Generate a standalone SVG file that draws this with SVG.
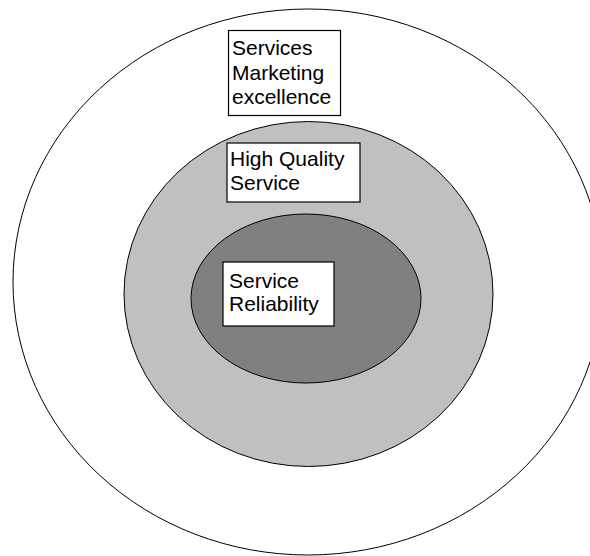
<svg xmlns="http://www.w3.org/2000/svg" width="590" height="556" viewBox="0 0 590 556">
  <style>
    .ring { stroke: #000; stroke-width: 1; }
    .box { fill: #fff; stroke: #000; stroke-width: 1.2; }
    .label { font-family: "Liberation Sans", Arial, sans-serif; font-size: 21px; fill: #000; }
  </style>
  <rect width="590" height="556" fill="#fff"/>

  <!-- concentric levels -->
  <g id="outer-level">
    <ellipse class="ring" cx="308" cy="282" rx="295" ry="273" fill="#fff"/>
  </g>
  <g id="middle-level">
    <ellipse class="ring" cx="308.5" cy="294" rx="184.5" ry="172.5" fill="#c0c0c0"/>
  </g>
  <g id="inner-level">
    <ellipse class="ring" cx="306" cy="298.5" rx="115" ry="84.5" fill="#808080"/>
  </g>

  <!-- labels -->
  <g id="services-marketing-excellence">
    <rect class="box" x="228.5" y="30.5" width="112" height="85"/>
    <text class="label" x="232" y="55">Services</text>
    <text class="label" x="232" y="79.5">Marketing</text>
    <text class="label" x="232" y="104">excellence</text>
  </g>
  <g id="high-quality-service">
    <rect class="box" x="227" y="143" width="133" height="59"/>
    <text class="label" x="230" y="166">High Quality</text>
    <text class="label" x="230" y="190">Service</text>
  </g>
  <g id="service-reliability">
    <rect class="box" x="223" y="262" width="111" height="64"/>
    <text class="label" x="229" y="288">Service</text>
    <text class="label" x="229" y="311">Reliability</text>
  </g>

  <g id="connectors"/>
</svg>
